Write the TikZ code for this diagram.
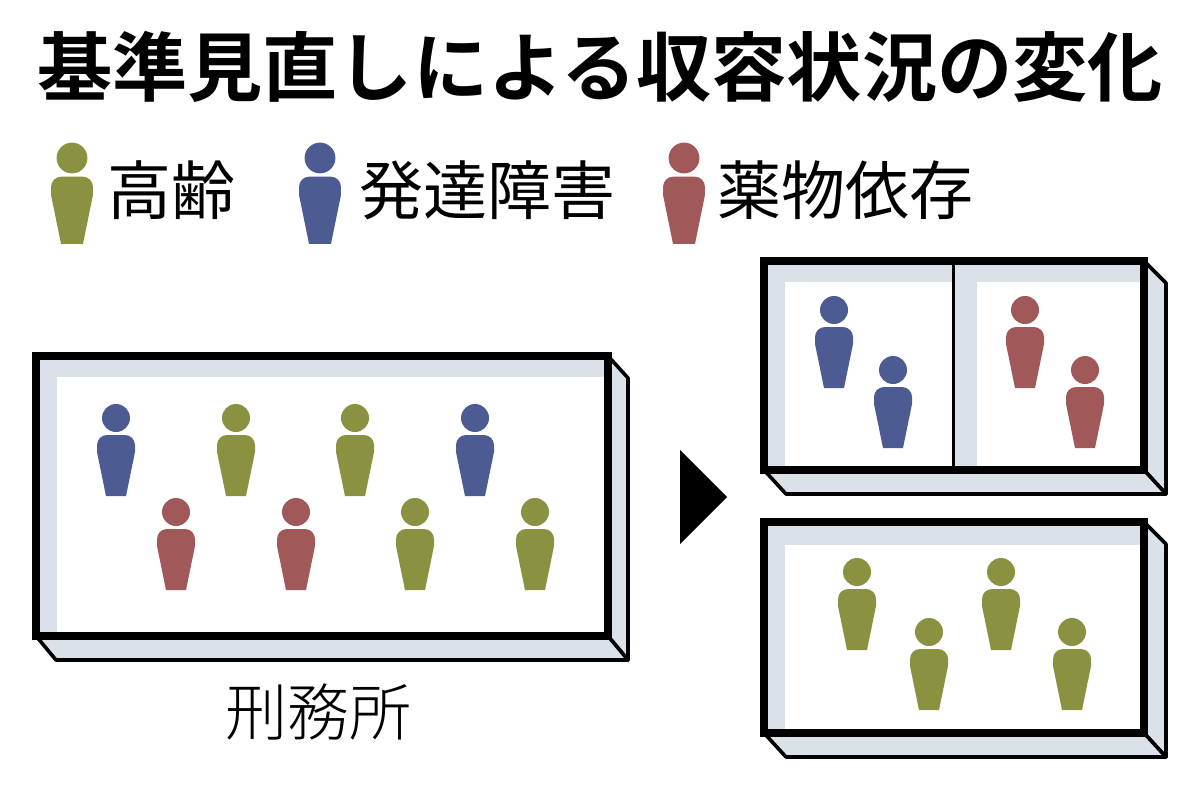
\documentclass[tikz,border=0pt]{standalone}
\usepackage{fontspec}
\newfontfamily\jpb{Noto Sans CJK JP Bold}
\newfontfamily\jp{Noto Sans CJK JP}
\newfontfamily\jpl{Noto Sans CJK JP Light}
\definecolor{pg}{HTML}{8A9140}
\definecolor{pb}{HTML}{4C5B92}
\definecolor{pr}{HTML}{A05858}
\definecolor{wall}{HTML}{DAE1E8}
\newcommand\person[4]{%
\begin{scope}[shift={(#1,#2)},scale=#4]
\fill[#3] (0,0) circle (14);
\fill[#3] (-10,78) -- (-19,34) [rounded corners=5pt] -- (-19,17) -- (19,17) [sharp corners] -- (19,34) -- (10,78) -- cycle;
\end{scope}}
\tikzset{frame/.style={draw=black,line width=4pt},
face/.style={fill=wall,draw=black,line width=1.8pt,line join=round}}
\begin{document}
\begin{tikzpicture}[x=0.5pt,y=-0.5pt]
\useasboundingbox (0,0) rectangle (1200,792);
\fill[white] (0,0) rectangle (1200,792);
\node[font=\jpb\fontsize{37.6}{38}\selectfont,anchor=center] (title) at (600,67) {基準見直しによる収容状況の変化};
% legend
\person{72}{158}{pg}{1.1}
\node[font=\jp\fontsize{32}{32}\selectfont,anchor=west] (l1) at (100,190) {高齢};
\person{320}{158}{pb}{1.1}
\node[font=\jp\fontsize{32}{32}\selectfont,anchor=west] (l2) at (352,190) {発達障害};
\person{684}{158}{pr}{1.1}
\node[font=\jp\fontsize{32}{32}\selectfont,anchor=west] (l3) at (710,190) {薬物依存};
% left box
\fill[wall] (36,356) rectangle (608,636);
\fill[white] (57,377) rectangle (608,636);
\draw[face] (608,356) -- (628,378) -- (628,660) -- (608,636) -- cycle;
\draw[face] (36,636) -- (56,660) -- (628,660) -- (608,636) -- cycle;
\draw[frame] (36,356) rectangle (608,636);
\person{116}{418}{pb}{1}\person{236}{418}{pg}{1}\person{355}{418}{pg}{1}\person{475}{418}{pb}{1}
\person{176}{512}{pr}{1}\person{296}{512}{pr}{1}\person{415}{512}{pg}{1}\person{535}{512}{pg}{1}
\node[font=\jpl\fontsize{31}{31}\selectfont] (lab) at (318,712) {刑務所};
% arrow
\fill[black] (680,450) -- (727,497) -- (680,544) -- cycle;
% upper right
\fill[wall] (764,261) rectangle (1144,470);
\fill[white] (785,282) rectangle (953,470);
\fill[white] (977,282) rectangle (1144,470);
\draw[face] (1144,261) -- (1166,283) -- (1166,494) -- (1144,470) -- cycle;
\draw[face] (764,470) -- (786,494) -- (1166,494) -- (1144,470) -- cycle;
\draw[frame] (764,261) rectangle (1144,470);
\draw[line width=1.5pt] (953,261) -- (953,470);
\person{834}{310}{pb}{1}\person{893}{370}{pb}{1}
\person{1025}{310}{pr}{1}\person{1085}{370}{pr}{1}
% lower right
\fill[wall] (764,522) rectangle (1144,733);
\fill[white] (785,545) rectangle (1144,733);
\draw[face] (1144,522) -- (1166,544) -- (1166,757) -- (1144,733) -- cycle;
\draw[face] (764,733) -- (786,757) -- (1166,757) -- (1144,733) -- cycle;
\draw[frame] (764,522) rectangle (1144,733);
\person{857}{572}{pg}{1}\person{929}{632}{pg}{1}\person{1001}{572}{pg}{1}\person{1072}{632}{pg}{1}
\end{tikzpicture}
\end{document}
